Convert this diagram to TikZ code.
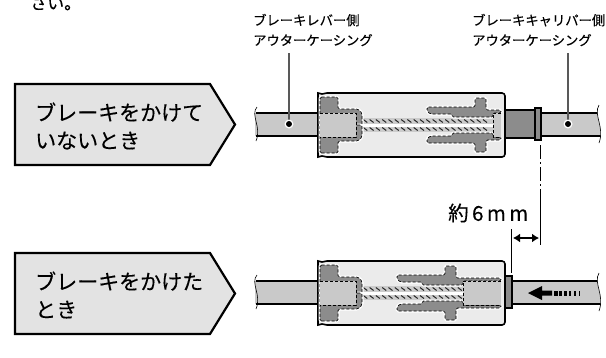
\documentclass[tikz,border=0pt]{standalone}
\usepackage{fontspec}
\usepackage{xcolor}
\usetikzlibrary{arrows.meta}
\setmainfont{Noto Sans CJK JP}[FakeBold=0.25]

\definecolor{labelgray}{gray}{0.89}
\definecolor{cablegray}{gray}{0.79}
\definecolor{bodygray}{gray}{0.92}
\definecolor{partgray}{gray}{0.55}

\tikzset{
  tag/.style={draw=black, line width=2.2pt, fill=labelgray, miter limit=10},
  tagtext/.style={anchor=west, align=left, inner sep=0pt, font=\fontsize{21}{28}\selectfont},
  smalltext/.style={anchor=west, align=left, inner sep=0pt, font=\fontsize{13.3}{20}\selectfont},
  cable/.style={draw=black, line width=1.6pt},
  leader/.style={draw=black!65, line width=1.2pt},
  part/.style={fill=partgray, draw=black, line width=0.7pt, densely dashed, rounded corners=1.5pt,
    preaction={draw=white, line width=3pt, solid}},
  core/.style={fill=cablegray, draw=black, line width=0.7pt, densely dashed},
  strand/.style={draw=black!85, line width=1pt},
}

\begin{document}
\begin{tikzpicture}[x=1pt, y=-1pt]
\useasboundingbox (0,0) rectangle (606,357);

\coordinate (leverTop) at (289,53);
\coordinate (leverDot) at (289,124);
\coordinate (caliperTop) at (568,53);
\coordinate (caliperDot) at (568,124);
\coordinate (gaugeA) at (540,145);
\coordinate (gaugeB) at (540,190);
\coordinate (gaugeC) at (540,245);
\coordinate (stopA) at (511,229);
\coordinate (stopB) at (511,273);

% text above the picture
\node (topline) [anchor=west, inner sep=0pt, font=\fontsize{17}{17}\selectfont] at (30,3) {さい。};
\node (leverlabel) [smalltext] at (253,30) {ブレーキレバー側\\アウターケーシング};
\node (caliperlabel) [smalltext] at (472,30) {ブレーキキャリパー側\\アウターケーシング};

% tags on the left
\draw[tag] (15,84) -- (210,84) -- (235,124.5) -- (210,165) -- (15,165) -- cycle;
\draw[tag] (15,253) -- (210,253) -- (235,293.5) -- (210,334) -- (15,334) -- cycle;
\node (tagone) [tagtext] at (35,126) {ブレーキをかけて\\いないとき};
\node (tagtwo) [tagtext] at (35,295) {ブレーキをかけた\\とき};

% both assemblies, drawn around their centre line
\foreach \dy/\off/\rim/\stop in {125/0/535/541, 293/-30/505/512} {
  \begin{scope}[shift={(0,\dy)}]
    % cable with torn ends
    \fill[cablegray] (255,-12) -- (600,-12) -- (600,11) -- (255,11) -- cycle;
    \draw[cable] (256,-12) -- (\rim,-12);
    \draw[cable] (256,11) -- (\rim,11);
    \draw[line width=0.6pt] (257,-18) .. controls (250,-10) and (262,2) .. (256,16);
    \draw[cable] (\stop,-12) -- (600,-12);
    \draw[cable] (\stop,11) -- (600,11);
    \fill[white] (599,-20) .. controls (593,-10) and (605,2) .. (599,18) -- (606,18) -- (606,-20) -- cycle;
    \draw[line width=0.6pt] (599,-20) .. controls (593,-10) and (605,2) .. (599,18);
    % sleeve and flange
    \draw[fill=partgray, line width=1.2pt] (505,-15) rectangle (\rim,13);
    \draw[fill=partgray, line width=1.5pt] (\rim,-17) rectangle (\stop,15);
    % body
    \draw[fill=bodygray, line width=1.6pt, rounded corners=3pt] (327,-32) -- (505,-32) -- (505,32) -- (327,32);
    \fill[bodygray] (318,-32) -- (327,-32) -- (327,32) -- (318,32) -- cycle;
    \draw[line width=1.6pt] (327,-32) -- (322,-31) -- (318,-32) -- (318,32) -- (322,31) -- (327,32);
    % core wire
    \fill[black!20] (356,-7) rectangle (493+\off,7);
    \fill[white] (356,-1.5) rectangle (493+\off,1.5);
    \foreach \k in {0,...,20} {
      \pgfmathsetmacro{\xa}{357+6.3*\k}
      \ifdim \xa pt<\numexpr 490+\off\relax pt
        \draw[strand] (\xa,-5.5) -- ++(4,3);
        \draw[strand] (\xa,2.5) -- ++(4,3);
      \fi
    }
    % lever side fitting
    \foreach \s in {1,-1} {
      \begin{scope}[yscale=\s]
        \draw[part] (320,-28) -- (338,-28) -- (338,-16) -- (358,-16) -- (362,-12) -- (362,0) -- (320,0) -- cycle;
        \draw[part] (427+\off,-18) -- (475+\off,-18) -- (475+\off,-27) -- (486+\off,-27) -- (486+\off,-15) -- (501,-15) -- (501,-12)
          -- (493+\off,-12) -- (493+\off,-8) -- (452+\off,-8) -- (452+\off,-11) -- (430+\off,-11) -- (427+\off,-14) -- cycle;
      \end{scope}
    }
    \fill[cablegray] (320,-12) rectangle (356,12);
    \draw[core] (320,-12) -- (356,-12) -- (356,12) -- (320,12);
    \draw[core] (501,-12) -- (493+\off,-12) -- (493+\off,12) -- (501,12);
  \end{scope}
}

% leaders
\draw[leader] (leverTop) -- (leverDot);
\draw[leader] (caliperTop) -- (caliperDot);
\foreach \dot in {leverDot, caliperDot} {
  \fill[white] (\dot) circle (4.5pt);
  \fill[black] (\dot) circle (3pt);
}

% gauge lines and dimension
\draw[dash pattern=on 14pt off 3pt on 2pt off 3pt, line width=1pt] (gaugeA) -- (gaugeB);
\draw[line width=1pt] (gaugeB) -- (gaugeC);
\draw[line width=1pt] (stopA) -- (stopB);
\draw[{Latex[length=7pt,width=9pt]}-{Latex[length=7pt,width=9pt]}, line width=2pt] (513,238) -- (539,238);
\node (gaugetext) [anchor=west, inner sep=0pt, font=\fontsize{20.5}{20}\selectfont] at (448,213) {約\,6\,m\,m};

% push arrow
\fill (528,293) -- (542,286) -- (542,290.5) -- (552,290.5) -- (552,295.5) -- (542,295.5) -- (542,300) -- cycle;
\foreach \x/\w in {554/3.5, 559/3, 564/2.5, 569/2, 574/1.5, 579/1.2} {
  \fill (\x,290.5) rectangle ++(\w,5);
}
\end{tikzpicture}
\end{document}
